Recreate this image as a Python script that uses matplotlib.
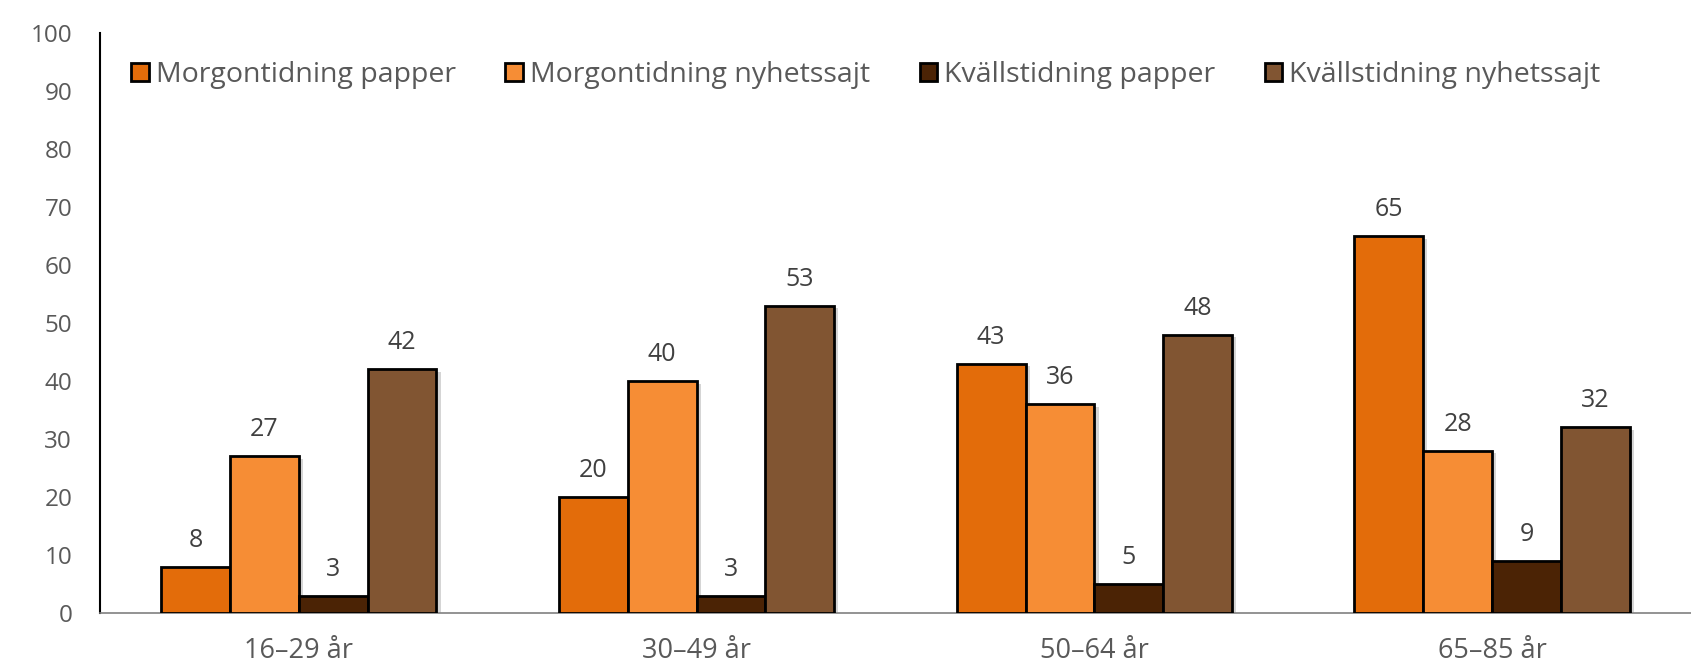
import matplotlib
matplotlib.use("Agg")
import matplotlib.pyplot as plt
import matplotlib.patheffects as pe
import numpy as np

categories = ["16–29 år", "30–49 år", "50–64 år", "65–85 år"]
series_names = ["Morgontidning papper", "Morgontidning nyhetssajt",
                "Kvällstidning papper", "Kvällstidning nyhetssajt"]
morgon_papper = [8, 20, 43, 65]
morgon_sajt = [27, 40, 36, 28]
kvall_papper = [3, 3, 5, 9]
kvall_sajt = [42, 53, 48, 32]
colors = ["#E36C0A", "#F68D35", "#4B2305", "#815532"]

plt.rcParams['font.family'] = ['Open Sans', 'DejaVu Sans']

fig = plt.figure(figsize=(16.91, 6.71), dpi=100)
ax = fig.add_axes([0.0591, 0.0864, 0.9409, 0.8646])

values = [morgon_papper, morgon_sajt, kvall_papper, kvall_sajt]
x = np.arange(len(categories))
w = 0.173
shadow = [pe.SimplePatchShadow(offset=(3, -2), shadow_rgbFace='#888888', alpha=0.35), pe.Normal()]
for i, (name, vals, c) in enumerate(zip(series_names, values, colors)):
    pos = x + (i - 1.5) * w
    bars = ax.bar(pos, vals, width=w, color=c, edgecolor='black', linewidth=2,
                  label=name, zorder=3)
    for b in bars:
        b.set_path_effects(shadow)
    for p, v in zip(pos, vals):
        ax.annotate(str(v), (p, v), xytext=(0, 10), textcoords='offset points',
                    ha='center', va='bottom', fontsize=18, color='#404040')

ax.set_xlim(-0.5, 3.5)
ax.set_ylim(0, 100)
ax.set_yticks(range(0, 101, 10))
ax.set_xticks(x)
ax.set_xticklabels(categories)
ax.tick_params(axis='both', length=0, colors='#595959')
ax.tick_params(axis='x', pad=17, labelsize=19.5)
ax.tick_params(axis='y', pad=20, labelsize=17.5)
for s in ['top', 'right']:
    ax.spines[s].set_visible(False)
ax.spines['left'].set_color('black')
ax.spines['left'].set_linewidth(1.5)
ax.spines['bottom'].set_color('#808080')
ax.spines['bottom'].set_linewidth(1.2)

leg = ax.legend(ncol=4, loc='center left', bbox_to_anchor=(0.0198, 0.927), frameon=False,
                fontsize=20.5, handlelength=0.6, handleheight=0.6, handletextpad=0.25,
                columnspacing=1.75, borderpad=0, borderaxespad=0, labelcolor='#595959')
for h in leg.legend_handles:
    h.set_path_effects([])

fig.savefig("out.png", dpi=100, facecolor='white')
